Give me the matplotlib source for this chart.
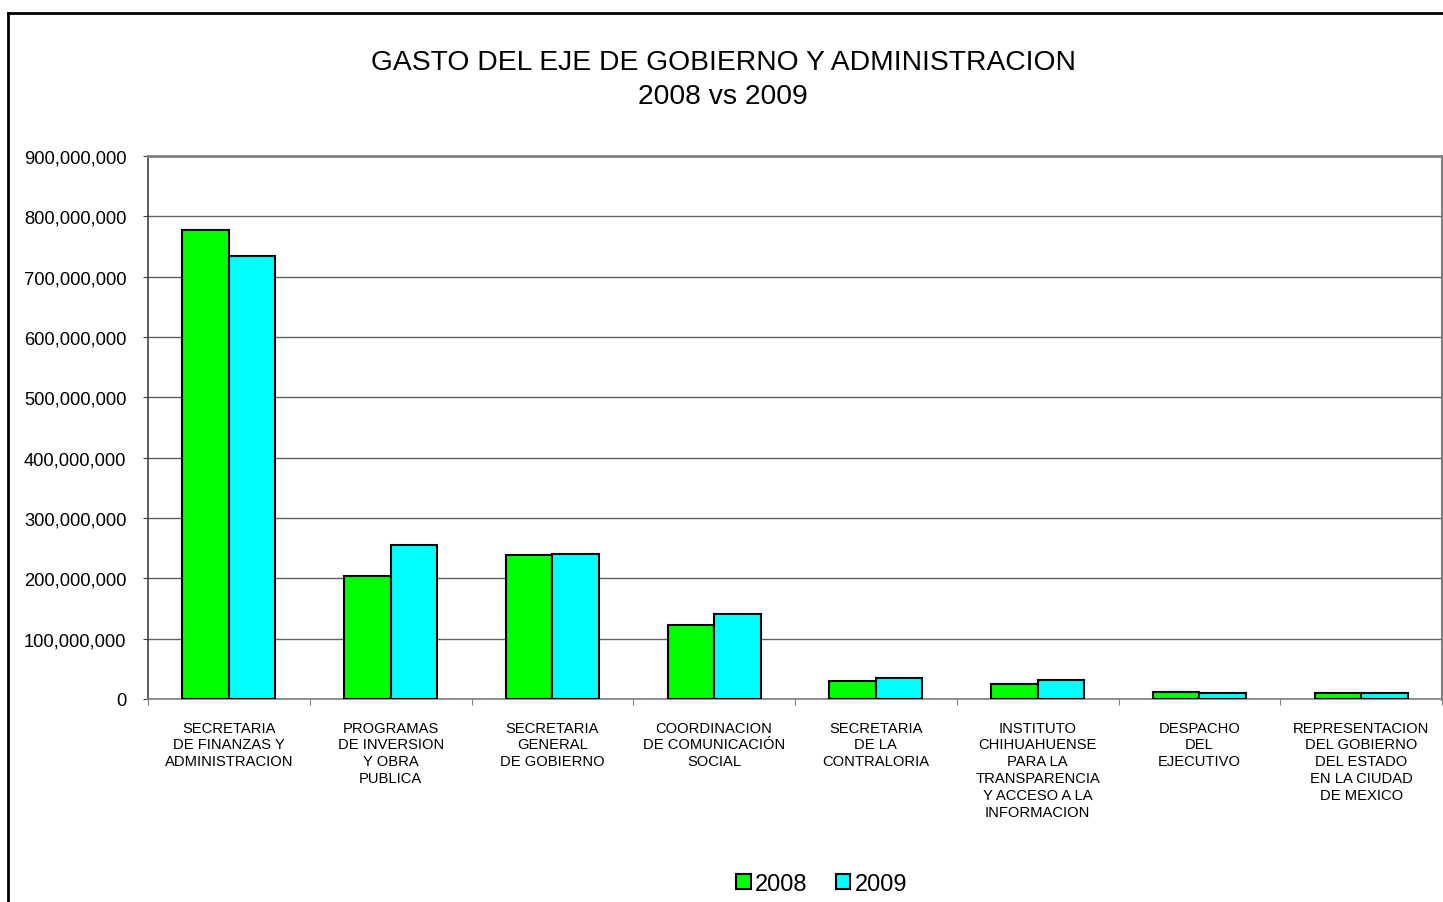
import matplotlib
matplotlib.use("Agg")
import matplotlib.pyplot as plt
from matplotlib.patches import Patch
from matplotlib.lines import Line2D
from matplotlib.ticker import FuncFormatter
import numpy as np

plt.rcParams['font.family'] = ['Liberation Sans', 'DejaVu Sans']

categories = [
    "SECRETARIA\nDE FINANZAS Y\nADMINISTRACION",
    "PROGRAMAS\nDE INVERSION\nY OBRA\nPUBLICA",
    "SECRETARIA\nGENERAL\nDE GOBIERNO",
    "COORDINACION\nDE COMUNICACIÓN\nSOCIAL",
    "SECRETARIA\nDE LA\nCONTRALORIA",
    "INSTITUTO\nCHIHUAHUENSE\nPARA LA\nTRANSPARENCIA\nY ACCESO A LA\nINFORMACION",
    "DESPACHO\nDEL\nEJECUTIVO",
    "REPRESENTACION\nDEL GOBIERNO\nDEL ESTADO\nEN LA CIUDAD\nDE MEXICO",
]
values_2008 = [777e6, 204e6, 238e6, 123e6, 30e6, 25e6, 12e6, 10.5e6]
values_2009 = [734e6, 255e6, 240e6, 141e6, 35e6, 32e6, 10.5e6, 9.4e6]
series_names = ["2008", "2009"]
series_colors = ["#00FF00", "#00FFFF"]
yticks = list(range(0, 900_000_001, 100_000_000))

W, H = 1443, 903
fig = plt.figure(figsize=(W / 100, H / 100), dpi=100)
ax = fig.add_axes([148 / W, 1 - 700 / H, (1442 - 148) / W, (700 - 157) / H])

x = np.arange(len(categories))
bw = 0.2875
ax.bar(x - bw / 2, values_2008, width=bw, color=series_colors[0],
       edgecolor="black", linewidth=1.5, zorder=3)
ax.bar(x + bw / 2, values_2009, width=bw, color=series_colors[1],
       edgecolor="black", linewidth=1.5, zorder=3)

ax.set_xlim(-0.5, len(categories) - 0.5)
ax.set_ylim(0, 900_000_000)
ax.set_yticks(yticks)
ax.yaxis.set_major_formatter(FuncFormatter(lambda v, p: f"{int(v):,}"))
ax.grid(axis="y", color="#606060", linewidth=1, zorder=0)
ax.set_axisbelow(True)

# category boundaries as major ticks, labels as minor ticks at centers
ax.set_xticks(np.arange(-0.5, len(categories) - 0.5 + 0.01, 1.0))
ax.set_xticklabels([])
ax.set_xticks(x, minor=True)
ax.set_xticklabels(categories, minor=True, fontsize=10.6, linespacing=1.27, va="top")
ax.tick_params(axis="x", which="major", length=4, direction="out", color="#808080")
ax.tick_params(axis="x", which="minor", length=0, pad=15.5)
ax.tick_params(axis="y", length=3.5, direction="out", labelsize=13.2, pad=12, color="#404040")

ax.spines["left"].set_color("#404040")
ax.spines["left"].set_linewidth(1.2)
ax.spines["bottom"].set_color("#808080")
ax.spines["bottom"].set_linewidth(1.2)
ax.spines["top"].set_color("#808080")
ax.spines["top"].set_linewidth(2)
ax.spines["right"].set_color("#808080")
ax.spines["right"].set_linewidth(2.2)

fig.text(723 / W, 1 - 80 / H, "GASTO DEL EJE DE GOBIERNO Y ADMINISTRACION\n2008 vs 2009",
         ha="center", va="center", fontsize=20.3, linespacing=1.38)

handles = [Patch(facecolor=c, edgecolor="black", linewidth=1.5) for c in series_colors]
fig.legend(handles, series_names, loc="center", bbox_to_anchor=(822 / W, 1 - 885 / H),
           ncol=2, frameon=False, fontsize=17, handlelength=0.6, handleheight=0.6,
           handletextpad=0.2, columnspacing=1.2, borderpad=0)

# outer chart-area frame
fig.add_artist(Line2D([8 / W, 8 / W], [0, 1 - 14 / H], transform=fig.transFigure,
                      color="black", linewidth=2))
fig.add_artist(Line2D([8 / W, 1], [1 - 14 / H, 1 - 14 / H], transform=fig.transFigure,
                      color="black", linewidth=2))

fig.savefig("out.png", dpi=100, facecolor="white")
